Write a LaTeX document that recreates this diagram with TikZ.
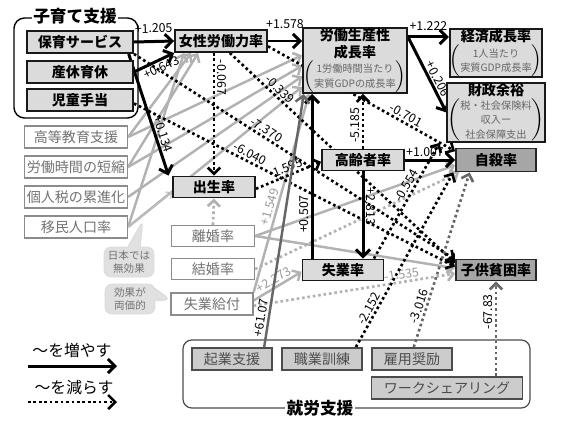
\documentclass[tikz,border=0pt]{standalone}
\usepackage{fontspec}
\setmainfont{Noto Sans CJK JP}
\usetikzlibrary{positioning,backgrounds,arrows.meta,shapes.callouts}

\newcommand{\subnote}[1]{$\left(\vcenter{\hbox{\mdseries\color{black!60}\fontsize{5.8}{6.6}\selectfont\shortstack{#1}}}\right)$}

\begin{document}
\begin{tikzpicture}[x=0.02cm,y=-0.02cm,
    >={Straight Barb[length=4pt,width=8pt]},
    keybox/.style={draw=black!90,line width=1.1pt,fill=black!14,inner sep=0pt,minimum width=2.12cm,minimum height=0.44cm,font=\fontsize{8}{9.2}\selectfont\bfseries},
    outbox/.style={draw=black!85,line width=1.1pt,fill=black!35,inner sep=0pt,minimum width=1.6cm,minimum height=0.42cm,font=\fontsize{8}{9}\selectfont\bfseries},
    policybox/.style={draw=black!45,line width=0.7pt,fill=white,text=black!55,inner sep=0pt,minimum width=2.06cm,minimum height=0.44cm,font=\fontsize{8}{9}\selectfont},
    workbox/.style={draw=black!70,line width=1.1pt,fill=black!20,text=black!70,inner sep=0pt,minimum width=1.6cm,minimum height=0.44cm,font=\fontsize{8}{9}\selectfont},
    grouptitle/.style={fill=white,inner sep=1pt,font=\fontsize{9.5}{10}\selectfont\bfseries},
    note/.style={rectangle callout,rounded corners=4pt,fill=black!12,draw=black!15,text=black!55,align=center,inner sep=1pt,minimum width=1cm,minimum height=0.6cm,font=\fontsize{6}{7}\selectfont},
    incr/.style={->,line width=1.7pt},
    decr/.style={->,line width=1.5pt,dash pattern=on 1.5pt off 1.6pt,>={Straight Barb[length=3.5pt,width=7pt]}},
    incrgray/.style={->,line width=1.4pt,black!30,>={Straight Barb[length=3.5pt,width=7pt]}},
    decrgray/.style={decr,black!30},
    lbl/.style={font=\fontsize{7}{8}\selectfont,inner sep=1pt,sloped,text=black},
    glbl/.style={lbl,text=black!40}]

    \useasboundingbox (0,0) rectangle (570,427);

    % policy boxes on the left
    \node[keybox] (hoiku) at (80,42) {保育サービス};
    \node[keybox] (sankyu) at (80,72) {産休育休};
    \node[keybox] (jido) at (80,100) {児童手当};
    \node[grouptitle] (kosodate) at (75,16) {子育て支援};

    \node[policybox] (kotokyo) at (76,137) {高等教育支援};
    \node[policybox] (rodojikan) at (76,167) {労働時間の短縮};
    \node[policybox] (kojinzei) at (76,197) {個人税の累進化};
    \node[policybox] (imin) at (76,227) {移民人口率};

    \node[note,callout absolute pointer={(143,220)}] (noteA) at (129,262) {日本では\\無効果};
    \node[note,callout absolute pointer={(171,300)}] (noteB) at (130,299) {効果が\\両価的};

    % middle
    \node[keybox,minimum width=1.84cm] (josei) at (221,41) {女性労働力率};
    \node[keybox,minimum width=1.64cm,minimum height=0.42cm] (shussei) at (214,187) {出生率};
    \node[policybox,minimum width=1.66cm,minimum height=0.42cm] (rikon) at (213,236) {離婚率};
    \node[policybox,minimum width=1.66cm,minimum height=0.42cm] (kekkon) at (213,269) {結婚率};
    \node[policybox,minimum width=1.64cm] (kyufu) at (212,304) {失業給付};

    \node[keybox,minimum width=2.08cm,minimum height=1.30cm,align=center] (seisansei) at (355,60.5)
        {労働生産性\\成長率\\\subnote{1労働時間当たり\\実質GDPの成長率}};
    \node[keybox,minimum width=1.64cm,minimum height=0.42cm] (koreisha) at (363,160) {高齢者率};
    \node[keybox,minimum width=1.62cm,minimum height=0.42cm] (shitsugyo) at (343,270) {失業率};

    % outcomes
    \node[keybox,minimum width=1.6cm,minimum height=0.96cm,align=center] (keizai) at (496,53)
        {経済成長率\\\subnote{1人当たり\\実質GDP成長率}};
    \node[keybox,minimum width=1.6cm,minimum height=1.18cm,align=center] (zaisei) at (496,112.5)
        {財政余裕\\\subnote{税・社会保険料\\収入ー\\社会保障支出}};
    \node[outbox,minimum height=0.46cm] (jisatsu) at (496,160) {自殺率};
    \node[outbox] (hinkon) at (496,270) {子供貧困率};

    % employment support
    \node[workbox] (kigyo) at (232,359) {起業支援};
    \node[workbox] (shokugyo) at (322,359) {職業訓練};
    \node[workbox] (koyo) at (412,359) {雇用奨励};
    \node[workbox,minimum width=3.02cm] (worksharing) at (447,388) {ワークシェアリング};
    \node[grouptitle] (shuro) at (320,408) {就労支援};

    % legend
    \node[font=\fontsize{9}{10}\selectfont] (legup) at (72,350) {～を増やす};
    \node[font=\fontsize{9}{10}\selectfont] (legdown) at (74,388) {～を減らす};
    \coordinate (legupA) at (28,366);
    \coordinate (legupB) at (117,366);
    \coordinate (legdnA) at (28,402);
    \coordinate (legdnB) at (117,402);
    \draw[incr] (legupA) -- (legupB);
    \draw[decr,>={Straight Barb[length=4pt,width=8pt]}] (legdnA) -- (legdnB);

    \begin{pgfonlayer}{background}
        \draw[rounded corners=6pt,line width=0.8pt] (14,18) rectangle (138,118);
        \draw[rounded corners=5pt,line width=0.7pt,black!70] (183,340) rectangle (530,408);

        % light grey links
        \path[incrgray]
        (kotokyo.east) edge ([xshift=-17pt]josei.south)
        (rodojikan.east) edge ([xshift=-13pt]josei.south)
        (imin.east) edge ([xshift=-21pt]josei.south)
        (kotokyo.east) edge ([yshift=3pt]seisansei.west)
        (rodojikan.east) edge ([yshift=-3pt]seisansei.west)
        (kojinzei.east) edge ([yshift=-9pt]seisansei.west)
        (imin.east) edge ([yshift=-15pt]seisansei.west)
        (rikon.east) edge ([yshift=-3pt]jisatsu.west)
        (rikon.east) edge ([yshift=1pt]hinkon.west)
        ([yshift=2pt]kyufu.east) edge node[glbl,above] {+2.273} ([yshift=-1pt]shitsugyo.west)
        (kyufu.north east) edge node[glbl,above,pos=0.42] {+1.549} ([xshift=4pt]seisansei.south west);
        \draw[->,line width=0.6pt,black!25,>={Straight Barb[length=2.5pt,width=5pt]}] (imin.east) -- ([yshift=-3pt]shussei.west);
        \path[decrgray]
        (rikon.north) edge (shussei.south)
        (kekkon.east) edge ([xshift=-21pt]jisatsu.south)
        ([yshift=-1pt]kyufu.east) edge node[glbl,above,pos=0.74] {-1.535} ([yshift=-2pt]hinkon.west);

        % dotted: decreases
        \path[decr]
        (shussei.north |- josei.south) edge node[lbl,above,pos=0.2] {-0.067} (shussei.north)
        ([xshift=5pt]josei.south) edge node[lbl,above,pos=0.2] {-0.339} ([yshift=4pt]hinkon.west)
        ([yshift=-3pt]josei.east) edge node[lbl,above,pos=0.72] {-0.701} ([yshift=5pt]jisatsu.west)
        (hoiku.south east) edge node[lbl,above,pos=0.4] {-7.370} ([yshift=6pt]hinkon.west)
        ([yshift=-2pt]jido.east) edge node[lbl,above,pos=0.35] {-6.040} ([yshift=2pt]hinkon.west)
        ([yshift=-1pt]shussei.east) edge node[lbl,above,pos=0.5] {-1.595} ([yshift=-1pt]koreisha.west)
        (koreisha.north) edge node[lbl,above,pos=0.43] {-5.185} (koreisha.north |- seisansei.south)
        ([xshift=-6pt]shitsugyo.north east) edge node[lbl,above,pos=0.6] {-0.554} ([xshift=-4pt]zaisei.south west)
        ([xshift=-4pt]shokugyo.north east) edge node[lbl,above,pos=0.2] {-2.152} ([xshift=-1pt]jisatsu.south west);
        \path[decr,black!60]
        ([xshift=1pt]koyo.north) edge node[lbl,above,pos=0.22] {-3.016} ([xshift=-15pt]jisatsu.south)
        (hinkon.south |- worksharing.north) edge node[lbl,above,pos=0.68] {-67.83} (hinkon.south);

        % solid: increases
        \path[incr]
        (hoiku.east) edge node[lbl,above=3pt] {+1.205} (josei.west)
        (sankyu.east) edge node[lbl,below,pos=0.6] {+0.643} (josei.south west)
        ([xshift=-3pt]hoiku.south east) edge node[lbl,above,pos=0.68] {+0.134} ([xshift=-2pt]shussei.north west)
        (josei.east) edge node[lbl,above=5pt] {+1.578} (josei.east -| seisansei.west)
        (seisansei.24) edge node[lbl,above=2pt] {+1.222} (seisansei.24 -| keizai.west)
        (seisansei.24) edge node[lbl,above,pos=0.6] {+0.206} (zaisei.west)
        (koreisha.east) edge node[lbl,above,pos=0.4] {+1.007} (jisatsu.west)
        (koreisha.south) edge node[lbl,above,pos=0.4] {+2.813} (koreisha.south |- shitsugyo.north)
        ([xshift=6pt]shitsugyo.north west) edge node[lbl,above,pos=0.27] {+0.507} ([xshift=6pt]shitsugyo.north west |- seisansei.south);
        \path[incr,black!60,line width=1.4pt]
        ([xshift=-5pt]kigyo.north east) edge node[lbl,above,pos=0.11] {+61.07} ([xshift=1pt]seisansei.south west);
    \end{pgfonlayer}
\end{tikzpicture}
\end{document}
